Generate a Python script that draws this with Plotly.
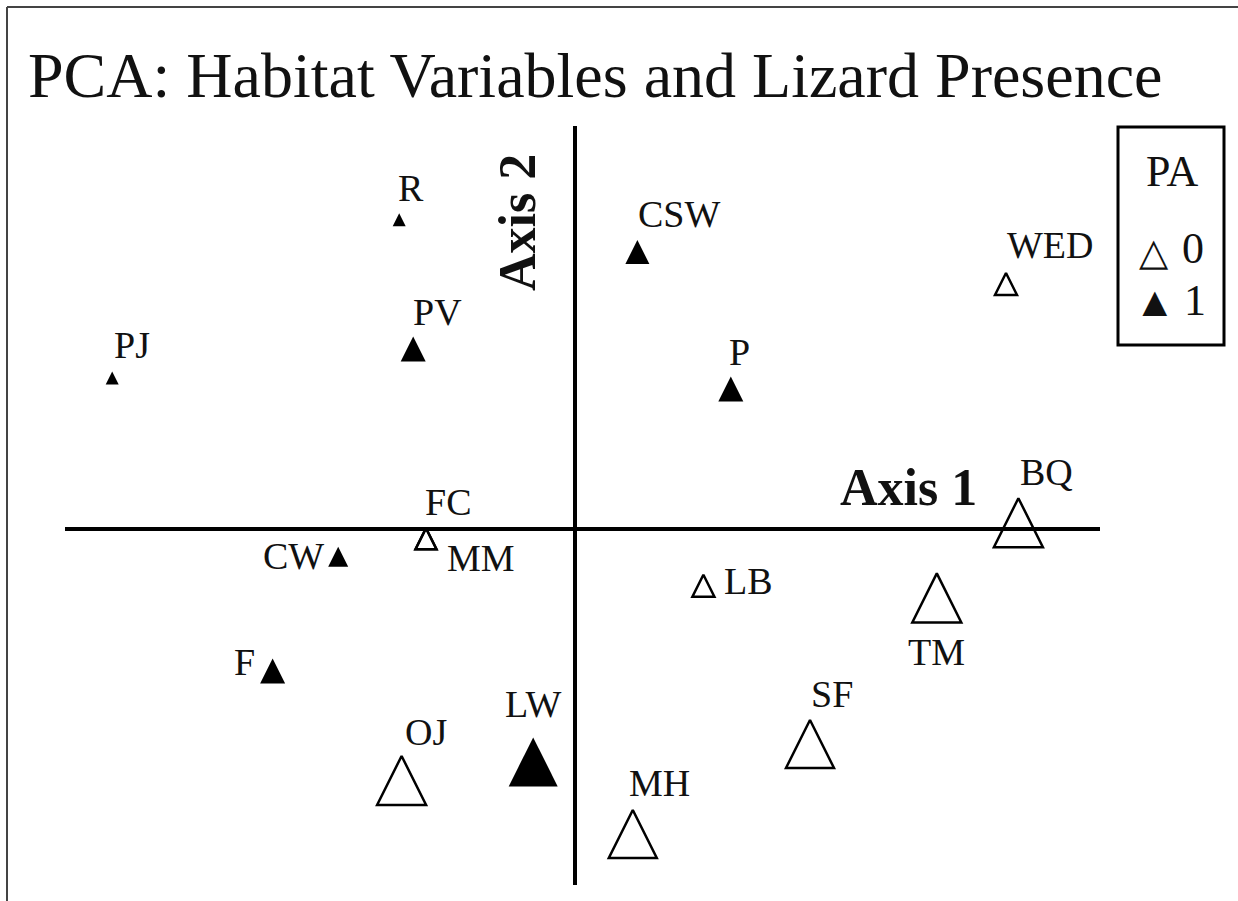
import plotly.graph_objects as go

# PCA site scores (apex of each triangle marker), lizard presence and marker size
sites = ["PJ", "R", "PV", "CSW", "P", "WED", "FC", "MM", "CW", "F",
         "LB", "BQ", "TM", "SF", "MH", "OJ", "LW"]
axis1 = [-2.314, -0.879, -0.809, 0.312, 0.779, 2.155, -0.745, -0.745, -1.184, -1.512,
         0.642, 2.217, 1.809, 1.175, 0.289, -0.867, -0.209]
axis2 = [0.787, 1.579, 0.962, 1.445, 0.762, 1.280, 0.004, 0.004, -0.089, -0.647,
         -0.229, 0.154, -0.222, -0.955, -1.405, -1.135, -1.042]
presence = [1, 1, 1, 1, 1, 0, 0, 0, 1, 1, 0, 0, 0, 0, 0, 0, 1]
marker_px = [13, 13, 25, 24, 25, 22, 21, 21, 20, 25, 22, 49, 49, 48, 48, 49, 49]

# label offsets from the marker apex, in pixels (right, up)
label_shift = {
    "PJ": (20, 27), "R": (12, 25), "PV": (24, 25), "CSW": (42, 26), "P": (9, 25),
    "WED": (44, 28), "FC": (22, 26), "MM": (55, -30), "CW": (-45, -9), "F": (-28, -4),
    "LB": (45, -6), "BQ": (28, 26), "TM": (0, -79), "SF": (22, 26), "MH": (27, 27),
    "OJ": (24, 24), "LW": (0, 33),
}

W, H = 1238, 901
PLOT_L, PLOT_R, PLOT_T, PLOT_B = 65, 1100, 126, 885
ORIGIN_X, ORIGIN_Y, SCALE = 575, 529, 200.0

SERIF = "Times New Roman, Liberation Serif, serif"


def px_x(p):
    return (p - ORIGIN_X) / SCALE


def px_y(p):
    return (ORIGIN_Y - p) / SCALE


def paper_x(p):
    return (p - PLOT_L) / (PLOT_R - PLOT_L)


def paper_y(p):
    return (PLOT_B - p) / (PLOT_B - PLOT_T)


fig = go.Figure()

for pa_val, symbol, lw in [(0, "arrow-up-open", 2.5), (1, "arrow-up", 0)]:
    idx = [i for i, v in enumerate(presence) if v == pa_val]
    fig.add_trace(go.Scatter(
        x=[axis1[i] for i in idx],
        y=[axis2[i] for i in idx],
        text=[sites[i] for i in idx],
        name=str(pa_val),
        mode="markers",
        marker=dict(symbol=symbol, size=[marker_px[i] for i in idx], color="black",
                    opacity=1, line=dict(width=lw, color="black")),
        cliponaxis=False,
        hovertemplate="%{text}<br>Axis 1: %{x:.2f}<br>Axis 2: %{y:.2f}<extra>PA " + str(pa_val) + "</extra>",
        showlegend=False,
    ))

# site labels
for name, x, y in zip(sites, axis1, axis2):
    dx, dy = label_shift[name]
    fig.add_annotation(
        x=x, y=y, xref="x", yref="y", xshift=dx, yshift=dy,
        xanchor="center", yanchor="middle",
        text=name, showarrow=False,
        font=dict(family=SERIF, size=38, color="#111"),
    )

# axis names
fig.add_annotation(x=px_x(908), y=px_y(487), xref="x", yref="y", text="<b>Axis 1</b>",
                   xanchor="center", yanchor="middle",
                   showarrow=False, font=dict(family=SERIF, size=52, color="#111"))
fig.add_annotation(x=px_x(517), y=px_y(223), xref="x", yref="y", text="<b>Axis 2</b>",
                   xanchor="center", yanchor="middle", textangle=-90,
                   showarrow=False, font=dict(family=SERIF, size=52, color="#111"))

# hand-drawn legend box
fig.add_shape(type="rect", xref="paper", yref="paper",
              x0=paper_x(1118), x1=paper_x(1224), y0=paper_y(345), y1=paper_y(127),
              line=dict(color="black", width=3), fillcolor="rgba(0,0,0,0)")
legend_items = [("PA", 1172, 171, 44), ("\u25b3", 1154, 252, 38), ("0", 1193, 248, 44),
                ("\u25b2", 1155, 302, 42), ("1", 1195, 300, 44)]
for txt, lx, ly, fs in legend_items:
    fig.add_annotation(x=paper_x(lx), y=paper_y(ly), xref="paper", yref="paper",
                       xanchor="center", yanchor="middle",
                       text=txt, showarrow=False,
                       font=dict(family=SERIF, size=fs, color="#111"))

# outer frame (left and top edges)
fig.add_shape(type="line", xref="paper", yref="paper",
              x0=paper_x(7), x1=paper_x(7), y0=paper_y(H), y1=paper_y(7),
              line=dict(color="#444", width=2))
fig.add_shape(type="line", xref="paper", yref="paper",
              x0=paper_x(7), x1=paper_x(W), y0=paper_y(7), y1=paper_y(7),
              line=dict(color="#444", width=2))

fig.update_layout(
    width=W, height=H,
    margin=dict(l=PLOT_L, r=W - PLOT_R, t=PLOT_T, b=H - PLOT_B, pad=0),
    paper_bgcolor="white", plot_bgcolor="white",
    title=dict(text="PCA: Habitat Variables and Lizard Presence",
               x=28 / W, xanchor="left", y=1 - 75 / H, yanchor="middle",
               font=dict(family=SERIF, size=64, color="#111")),
    showlegend=False,
)
fig.update_xaxes(range=[px_x(PLOT_L), px_x(PLOT_R)], showgrid=False, showticklabels=False,
                 ticks="", showline=False, zeroline=True, zerolinecolor="black", zerolinewidth=4)
fig.update_yaxes(range=[px_y(PLOT_B), px_y(PLOT_T)], showgrid=False, showticklabels=False,
                 ticks="", showline=False, zeroline=True, zerolinecolor="black", zerolinewidth=4)

fig.write_html("out.html", config={"displayModeBar": False},
               post_script="document.body.style.margin='0';")
